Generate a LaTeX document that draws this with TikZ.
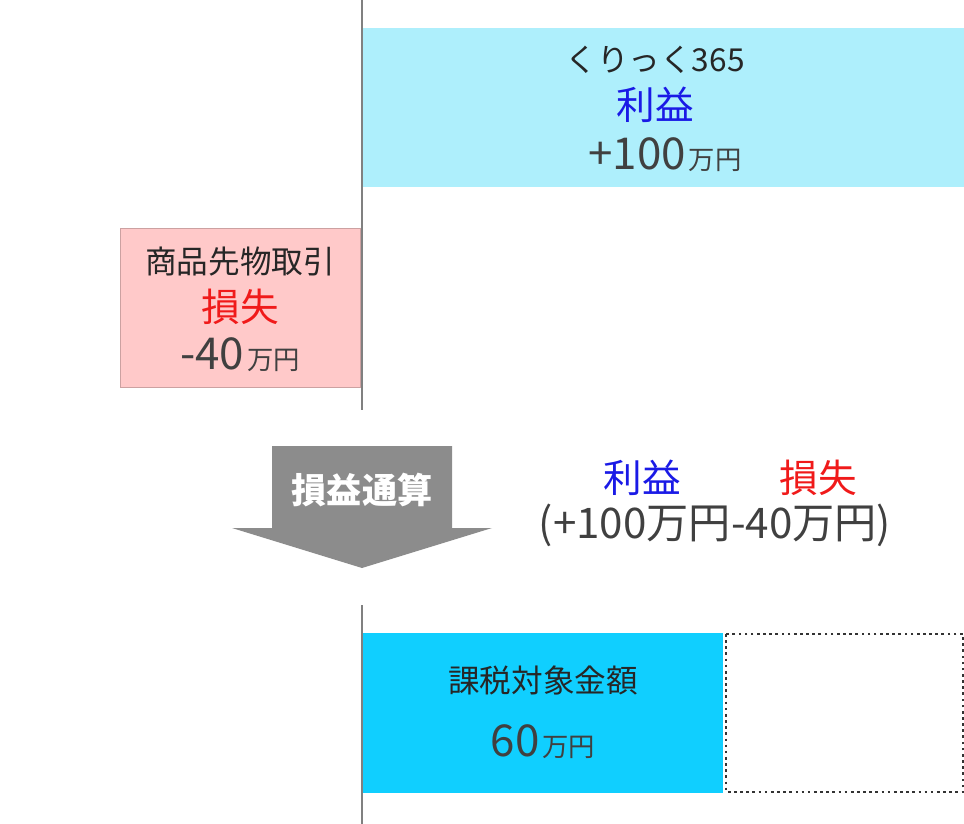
\documentclass[tikz,border=0pt]{standalone}
\usepackage{fontspec}
\setmainfont{Noto Sans CJK JP}
\usepackage{xcolor}
\usetikzlibrary{positioning}
\definecolor{lightcyan}{HTML}{AEEFFC}
\definecolor{taxcyan}{HTML}{10CFFF}
\definecolor{losspink}{HTML}{FFC9C9}
\definecolor{gainblue}{HTML}{1A1AE6}
\definecolor{lossred}{HTML}{F01A1A}
\newcommand{\yen}[1]{{\fontsize{25}{27}\selectfont #1}\,{\fontsize{15}{16}\selectfont 万円}}
\tikzset{
    label/.style={font=\fontsize{18}{20}\selectfont, text=black!85},
    gain/.style={font=\fontsize{22}{24}\selectfont, text=gainblue},
    loss/.style={font=\fontsize{22}{24}\selectfont, text=lossred},
    amount/.style={text=black!75}
}
\begin{document}
\begin{tikzpicture}[x=0.02cm, y=-0.02cm]
    \useasboundingbox (0,0) rectangle (964,824);

    % Axis lines
    \draw[gray, line width=1.2pt] (362,0) -- (362,410);
    \draw[gray, line width=1.2pt] (362,605) -- (362,824);

    % Profit box
    \fill[lightcyan] (363,28) rectangle (964,187);
    \node[label] (name1) at (655,60) {くりっく365};
    \node[gain] (gain1) at (655,105) {利益};
    \node[amount] (amt1) at (665,155) {\yen{+100}};

    % Loss box
    \filldraw[fill=losspink, draw=losspink!80!black] (120,228) rectangle (360,387);
    \node[label] (name2) at (240,262) {商品先物取引};
    \node[loss] (loss2) at (240,307) {損失};
    \node[amount] (amt2) at (240,355) {\yen{-40}};

    % Netting arrow
    \fill[black!45] (272,446) -- (452,446) -- (452,528) -- (492,528)
        -- (362,568) -- (232,528) -- (272,528) -- cycle;
    \node[text=white, font=\bfseries\fontsize{20}{22}\selectfont] (net) at (362,490) {損益通算};

    % Calculation
    \node[gain] (gain3) at (642,478) {利益};
    \node[loss] (loss3) at (818,478) {損失};
    \node[amount, font=\fontsize{24}{26}\selectfont] (calc) at (715,525) {(+100万円-40万円)};

    % Taxable amount
    \fill[taxcyan] (363,633) rectangle (723,793);
    \draw[black!80, dotted, line width=1.5pt] (726,634) rectangle (963,792);
    \node[label] (name4) at (543,680) {課税対象金額};
    \node[amount] (amt4) at (543,742) {\yen{60}};
\end{tikzpicture}
\end{document}
